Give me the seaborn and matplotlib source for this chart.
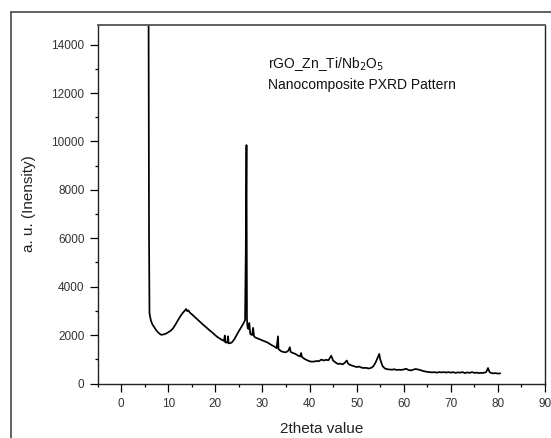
import matplotlib
matplotlib.use("Agg")
import matplotlib.pyplot as plt
import seaborn as sns
import pandas as pd
from matplotlib.ticker import MultipleLocator
from matplotlib.lines import Line2D

sns.set_theme(style="ticks")
plt.rcParams['font.family'] = ['Liberation Sans', 'DejaVu Sans']

two_theta = [
    5.8, 5.9, 6.0, 6.3, 6.6, 7.0, 7.5, 8.0, 8.5, 9.0, 9.5, 10.0, 10.5, 11.0, 11.5,
    12.0, 12.5, 13.0, 13.5, 13.8, 14.0, 14.3, 14.6, 15.0, 15.5, 16.0, 16.5, 17.0,
    17.5, 18.0, 18.5, 19.0, 19.5, 20.0, 20.5, 21.0, 21.5, 21.8, 22.0, 22.1, 22.5,
    22.7, 22.8, 23.2, 23.5, 24.0, 24.5, 25.0, 25.5, 26.0, 26.3, 26.45, 26.6, 26.7,
    26.8, 27.0, 27.2, 27.4, 27.8, 28.0, 28.2, 28.5, 29.0, 29.5, 30.0, 30.5, 31.0,
    31.5, 32.0, 32.5, 33.0, 33.3, 33.4, 34.0, 34.5, 35.0, 35.5, 35.8, 36.0, 36.5,
    37.0, 37.5, 38.0, 38.2, 38.4, 39.0, 39.5, 40.0, 40.5, 41.0, 41.5, 42.0, 42.5,
    43.0, 43.5, 44.0, 44.6, 45.0, 45.5, 46.0, 46.5, 47.0, 47.5, 47.9, 48.2, 48.5,
    49.0, 49.5, 50.0, 50.5, 51.0, 51.5, 52.0, 52.5, 53.0, 53.5, 54.0, 54.5, 54.8,
    55.0, 55.5, 56.0, 56.5, 57.0, 57.5, 58.0, 58.5, 59.0, 59.5, 60.0, 60.5, 61.0,
    61.5, 62.0, 62.5, 63.0, 63.5, 64.0, 64.5, 65.0, 65.5, 66.0, 66.5, 67.0, 67.5,
    68.0, 68.5, 69.0, 69.5, 70.0, 70.5, 71.0, 71.5, 72.0, 72.5, 73.0, 73.5, 74.0,
    74.5, 75.0, 75.5, 76.0, 76.5, 77.0, 77.5, 77.9, 78.2, 78.5, 79.0, 79.5, 80.0,
    80.5,
]
intensity = [
    15500, 6200, 2900, 2600, 2450, 2330, 2180, 2080, 2010, 2030, 2060, 2120, 2180,
    2280, 2430, 2600, 2760, 2900, 3010, 3080, 2990, 3020, 2920, 2860, 2770, 2680,
    2590, 2500, 2410, 2330, 2240, 2160, 2080, 1990, 1910, 1850, 1790, 1760, 1980,
    1700, 1690, 1950, 1660, 1670, 1700, 1820, 2000, 2170, 2330, 2500, 2620, 5450,
    9850, 2700, 2350, 2250, 2500, 2050, 2000, 2300, 1950, 1900, 1860, 1820, 1780,
    1740, 1700, 1640, 1580, 1530, 1460, 1950, 1420, 1330, 1300, 1290, 1360, 1500,
    1300, 1260, 1220, 1160, 1120, 1260, 1090, 1010, 960, 920, 900, 910, 930, 920,
    990, 950, 980, 960, 1150, 950, 870, 810, 820, 790, 860, 950, 820, 780, 740,
    710, 680, 700, 660, 640, 650, 620, 640, 700, 860, 1080, 1220, 1000, 720, 620,
    590, 580, 570, 590, 560, 570, 560, 580, 610, 560, 540, 570, 600, 580, 560,
    520, 500, 480, 470, 460, 470, 450, 470, 460, 470, 455, 470, 450, 470, 440,
    460, 450, 470, 430, 460, 440, 470, 440, 450, 430, 440, 440, 470, 640, 480,
    440, 420, 430, 410, 420,
]

x_ticks = [0, 10, 20, 30, 40, 50, 60, 70, 80, 90]
y_ticks = [0, 2000, 4000, 6000, 8000, 10000, 12000, 14000]

df = pd.DataFrame({"two_theta": two_theta, "intensity": intensity})

fig = plt.figure(figsize=(5.51, 4.38), dpi=100)
ax = fig.add_axes([0.1773, 0.1244, 0.8118, 0.8196])

sns.lineplot(data=df, x="two_theta", y="intensity", ax=ax, color="black",
             linewidth=1.25, sort=False, estimator=None)

ax.set_xlim(-5, 90)
ax.set_ylim(0, 14830)
ax.set_xticks(x_ticks)
ax.set_yticks(y_ticks)
ax.xaxis.set_minor_locator(MultipleLocator(5))
ax.yaxis.set_minor_locator(MultipleLocator(1000))
ax.tick_params(which="major", direction="out", length=5.5, width=0.9,
               colors="black", labelcolor="#333333", labelsize=8.5)
ax.tick_params(axis="x", which="major", pad=5)
ax.tick_params(axis="y", which="major", pad=4)
ax.tick_params(which="minor", direction="out", length=2.4, width=0.9, colors="black")
for s in ax.spines.values():
    s.set_color("#222222")
    s.set_linewidth(1.0)
ax.spines["top"].set_color("#555555")
ax.spines["top"].set_linewidth(1.3)

ax.set_xlabel("2theta value", fontsize=11, color="#222222")
ax.set_ylabel("a. u. (Inensity)", fontsize=11, color="#222222")
ax.xaxis.set_label_coords(0.5, -0.106)
ax.yaxis.set_label_coords(-0.139, 0.5)

ax.text(31.2, 12050, "rGO_Zn_Ti/Nb$_2$O$_5$\nNanocomposite PXRD Pattern",
        fontsize=10, color="#111111", ha="left", va="bottom", linespacing=1.45)

# outer frame lines (left and top)
fig.add_artist(Line2D([11 / 551, 11 / 551], [0, 1 - 12 / 438],
                      transform=fig.transFigure, color="#555555", linewidth=1.3))
fig.add_artist(Line2D([11 / 551, 1], [1 - 12 / 438, 1 - 12 / 438],
                      transform=fig.transFigure, color="#555555", linewidth=1.3))

fig.savefig("out.png", dpi=100)
